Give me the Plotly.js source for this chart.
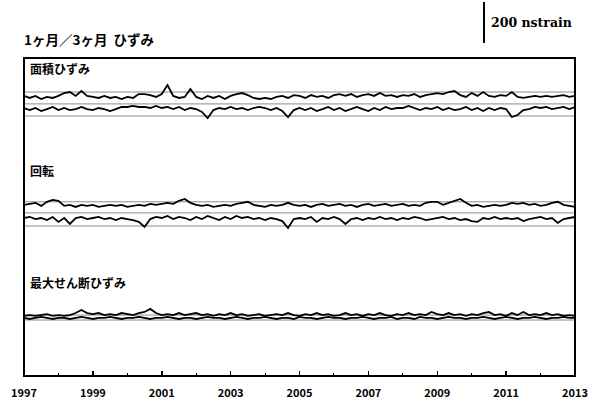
<!DOCTYPE html>
<html>
<head>
<meta charset="utf-8">
<script src="https://cdn.plot.ly/plotly-3.0.1.min.js"></script>
<style>html,body{margin:0;padding:0;background:#fff;}#chart{width:604px;height:405px;}</style>
</head>
<body>
<div id="chart"></div>
<script>
// ---- Data (nstrain, relative to each panel's lowest reference line), bimonthly 1997.0 .. 2013.0 ----
const startYear = 1997;
const endYear = 2013;
const stepsPerYear = 6;

const areaA = [
  98,88,98,83,93,88,
  98,112,117,98,122,98,
  93,88,98,88,93,83,
  93,88,107,107,102,93,
  107,151,98,88,93,132,
  93,83,98,88,98,83,
  98,107,112,102,88,83,
  88,83,93,98,88,102,
  98,88,102,93,98,88,
  102,107,98,107,93,102,
  107,98,112,98,102,93,
  102,98,107,93,102,107,
  112,107,117,122,102,93,
  112,98,117,98,93,102,
  98,117,93,88,93,98,
  93,98,93,98,102,93,
  98];
const areaB = [
  39,29,39,24,34,44,
  29,39,29,34,44,34,
  29,39,34,24,34,44,
  44,49,44,44,39,49,
  39,44,34,44,29,39,
  34,20,-10,29,39,34,
  44,34,39,29,39,44,
  39,29,39,24,-5,29,
  39,29,39,24,34,44,
  29,39,24,34,44,34,
  24,39,29,44,34,39,
  39,49,39,29,39,34,
  44,29,39,29,34,44,
  29,39,24,39,29,39,
  34,-5,5,29,34,44,
  39,44,34,39,44,34,
  44];
const rotA = [
  103,108,113,98,118,127,
  123,98,103,93,103,98,
  103,93,98,103,98,103,
  93,98,103,98,108,103,
  108,113,108,123,132,113,
  103,98,103,93,98,103,
  98,108,113,118,103,98,
  93,103,98,103,113,103,
  98,103,93,103,108,98,
  103,108,98,103,93,103,
  108,98,103,108,98,103,
  108,98,103,98,113,118,
  118,103,113,123,132,113,
  98,103,93,98,103,98,
  103,113,108,113,103,108,
  98,103,113,118,103,98,
  93];
const rotB = [
  39,44,34,39,29,44,
  20,39,10,39,44,34,
  39,44,34,39,29,39,
  34,29,20,-5,34,44,
  39,49,34,44,39,29,
  44,34,49,39,29,44,
  34,49,39,44,34,39,
  29,39,34,24,-10,34,
  39,34,44,20,39,34,
  44,34,10,34,39,29,
  39,34,44,34,39,29,
  39,34,44,39,29,34,
  39,44,34,39,29,34,
  24,20,39,34,44,34,
  39,34,39,24,34,39,
  44,34,39,15,34,39,
  44];
const shearA = [
  20,24,20,24,29,20,
  24,20,24,34,49,34,
  29,34,24,29,24,34,
  29,24,34,39,54,34,
  24,29,24,34,24,29,
  34,24,29,20,29,24,
  34,24,29,20,24,29,
  20,24,29,24,34,24,
  20,29,24,34,24,29,
  20,24,34,24,29,20,
  29,24,34,24,20,29,
  24,34,24,29,24,39,
  29,24,34,24,29,20,
  29,24,34,39,24,29,
  20,34,24,39,24,29,
  24,34,24,29,20,24,
  20];
const shearB = [
  10,5,10,15,10,5,
  10,10,5,10,15,10,
  5,10,10,15,10,5,
  10,10,15,10,5,10,
  10,15,10,5,10,10,
  5,10,15,10,10,5,
  10,15,10,5,10,10,
  15,10,5,10,10,5,
  15,10,10,5,10,15,
  10,10,5,10,10,15,
  10,5,10,10,15,5,
  10,10,5,15,10,10,
  5,10,15,10,10,5,
  10,10,15,10,5,10,
  15,10,5,10,10,15,
  10,5,10,10,15,10,
  10];

const areaRefs = [0, 59, 117];
const rotRefs = [0, 64, 118];
const shearRefs = [0, 24];

const panelLabels = ['面積ひずみ', '回転', '最大せん断ひずみ'];
const chartTitle = '1ヶ月／3ヶ月&nbsp;&nbsp;ひずみ';
const scaleValue = 200;
const scaleLabel = '200 nstrain';
const tickYears = [1997,1999,2001,2003,2005,2007,2009,2011,2013];
const tickLabels = tickYears.map(String);

// time grid
const xs = [];
for (let k = 0; k <= (endYear - startYear) * stepsPerYear; k++) xs.push(startYear + k / stepsPerYear);

// ---- Layout geometry (pixels) ----
const W = 604, H = 405;
const mL = 24, mR = 29, mT = 58, mB = 29;
const plotTop = mT, plotBot = H - mB, plotH = plotBot - plotTop, plotW = W - mL - mR;
const pxPerUnit = 41 / 200;          // 200 nstrain = 41 px
const unitPerPx = 1 / pxPerUnit;

const panels = [
  {top: 58, bot: 160, base: 116, label: 68},
  {top: 160, bot: 266, base: 226, label: 170},
  {top: 266, bot: 376, base: 320, label: 282}
];
function yaxisFor(p) {
  return {
    domain: [(plotBot - p.bot) / plotH, (plotBot - p.top) / plotH],
    range: [-(p.bot - p.base) * unitPerPx, (p.base - p.top) * unitPerPx],
    visible: false, fixedrange: true, anchor: 'x'
  };
}
const py2paper = py => (plotBot - py) / plotH;
const px2paper = px => (px - mL) / plotW;

const lineStyle = {color: '#000', width: 1.8};
function tr(y, ax, name) {
  return {x: xs, y: y, xaxis: 'x', yaxis: ax, type: 'scatter', mode: 'lines', line: lineStyle, name: name, hoverinfo: 'skip'};
}
const data = [
  tr(areaA, 'y', 'area 1'), tr(areaB, 'y', 'area 3'),
  tr(rotA, 'y2', 'rot 1'), tr(rotB, 'y2', 'rot 3'),
  tr(shearA, 'y3', 'shear 1'), tr(shearB, 'y3', 'shear 3')
];

const shapes = [];
[[areaRefs, 'y'], [rotRefs, 'y2'], [shearRefs, 'y3']].forEach(([refs, yr]) => {
  refs.forEach(v => shapes.push({type: 'line', xref: 'paper', yref: yr, x0: 0, x1: 1, y0: v, y1: v,
    line: {color: '#8c8c8c', width: 1}, layer: 'below'}));
});
// frame
shapes.push({type: 'rect', xref: 'paper', yref: 'paper', x0: 0, x1: 1, y0: 0, y1: 1, line: {color: '#000', width: 2}});
// scale bar (200 nstrain)
const barBottomPx = 43;
shapes.push({type: 'line', xref: 'paper', yref: 'paper', x0: px2paper(484), x1: px2paper(484),
  y0: py2paper(barBottomPx), y1: py2paper(barBottomPx - scaleValue * pxPerUnit), line: {color: '#000', width: 2}});

const annotations = panels.map((p, i) => ({
  xref: 'paper', yref: 'paper', x: px2paper(28), y: py2paper(p.label), xanchor: 'left', yanchor: 'middle',
  text: '<b>' + panelLabels[i] + '</b>', showarrow: false,
  font: {family: 'Noto Sans CJK JP', size: 12, color: '#000'}
}));
annotations.push({xref: 'paper', yref: 'paper', x: px2paper(489), y: py2paper(22), xanchor: 'left', yanchor: 'middle',
  text: '<b>' + scaleLabel + '</b>', showarrow: false, font: {family: 'DejaVu Serif', size: 12.5, color: '#000'}});

const layout = {
  width: W, height: H,
  margin: {l: mL, r: mR, t: mT, b: mB, pad: 0},
  paper_bgcolor: '#fff', plot_bgcolor: '#fff',
  showlegend: false,
  title: {text: '<b>' + chartTitle + '</b>', xref: 'container', yref: 'container', x: 24 / W, xanchor: 'left',
    y: 1 - 40 / H, yanchor: 'middle', font: {family: 'Noto Sans CJK JP', size: 13.5, color: '#000'}},
  xaxis: {
    anchor: 'y3',
    range: [startYear, endYear], showgrid: false, zeroline: false, showline: false, fixedrange: true,
    tickmode: 'array', tickvals: tickYears, ticktext: tickLabels,
    ticks: 'inside', ticklen: 5, tickwidth: 1.5, tickcolor: '#000',
    minor: {dtick: 1, tick0: startYear, ticks: 'inside', ticklen: 3, tickwidth: 1, tickcolor: '#000', showgrid: false},
    tickfont: {family: 'Noto Sans CJK JP', size: 11, color: '#000', weight: 'bold'},
    ticklabelstandoff: 9
  },
  yaxis: yaxisFor(panels[0]),
  yaxis2: yaxisFor(panels[1]),
  yaxis3: yaxisFor(panels[2]),
  shapes: shapes,
  annotations: annotations
};

Plotly.newPlot('chart', data, layout, {staticPlot: true, displayModeBar: false});
</script>
</body>
</html>
